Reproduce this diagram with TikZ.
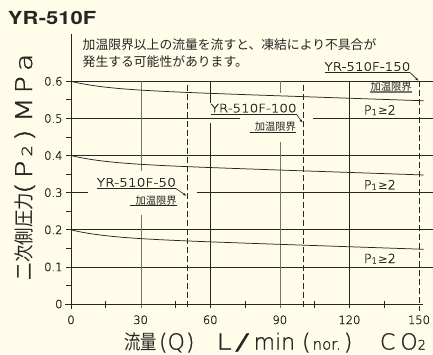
\documentclass[tikz,border=0pt]{standalone}
\usepackage{graphicx}
\usepackage{fontspec}
\usetikzlibrary{arrows.meta}
\newfontfamily\jpfont{Noto Sans CJK JP}
\newfontfamily\cadfont{DejaVu Sans}
\newfontfamily\cadthin{DejaVuSans-ExtraLight}[Extension=.ttf,FakeBold=1.3]
\newfontfamily\herosfont{TeX Gyre Heros}
\definecolor{bgcream}{RGB}{255,252,234}
\definecolor{ink}{RGB}{38,38,34}
\definecolor{lightink}{RGB}{118,116,106}
\newcommand{\fsz}[1]{\fontsize{#1}{#1}\selectfont}
\newcommand{\pone}{P\raisebox{-0.6pt}{\fsz{8.5}1}\hspace{1.2pt}{\cadfont\fsz{11.5}≥}2}
\begin{document}
\begin{tikzpicture}[x=1pt,y=-1pt,
  grid/.style={ink,line width=0.75pt},
  gridlight/.style={lightink,line width=0.9pt},
  limitline/.style={ink,line width=0.75pt,dash pattern=on 6pt off 3pt},
  curve/.style={ink,line width=0.75pt},
  leader/.style={ink,line width=0.6pt,-{Latex[length=3.5pt,width=2.4pt]}},
  uline/.style={ink,line width=0.75pt},
  every node/.style={inner sep=0pt,outer sep=0pt,text=ink},
  ticklbl/.style={font=\cadthin\fsz{11.5}},
  modellbl/.style={font=\cadthin\fsz{11.5}},
  limitlbl/.style={font=\jpfont\fsz{10.3}},
  plbl/.style={font=\cadthin\fsz{12.5}},
  notelbl/.style={font=\jpfont\fsz{12.8}},
  xtitle/.style={font=\cadthin\fsz{22}},
  ytitle/.style={font=\cadthin\fsz{23},rotate=90},
]
\fill[bgcream] (0,0) rectangle (433,354);
\useasboundingbox (0,0) rectangle (433,354);

% title and note
\node[anchor=base west,font=\herosfont\bfseries\fsz{18}] (title) at (8,24) {\scalebox{1.22}[1]{YR-510F}};
\node[notelbl,anchor=base west] (note1) at (82.7,49.9) {加温限界以上の流量を流すと、凍結により不具合が};
\node[notelbl,anchor=base west] (note2) at (82.7,66.6) {発生する可能性があります。};

% horizontal grid lines
\foreach \yy in {266.9,229.8,155.5,81.3} \draw[grid] (66,\yy) -- (433,\yy);
\draw[grid] (66,192.6) -- (88,192.6) (196.7,192.6) -- (433,192.6);
\draw[grid] (66,118.4) -- (240,118.4) (313,118.4) -- (433,118.4);
% vertical grid lines
\draw[gridlight] (141,81.3) -- (141,171) (141,215) -- (141,308);
\draw[grid] (210.2,81.3) -- (210.2,103) (210.2,123) -- (210.2,308);
\draw[gridlight] (280.2,81.3) -- (280.2,93) (280.2,142) -- (280.2,308);
\draw[grid] (349.4,81.3) -- (349.4,308);
% axes
\draw[grid] (71,34) -- (71,309);
\draw[grid] (65,304) -- (423,304);
\foreach \yy in {285.4,248.3,211.2,174.1,137.0,99.8} \draw[grid] (66,\yy) -- (71,\yy);
\foreach \xx in {105.8,175.4,245,314.6,384.2} \draw[grid] (\xx,300.5) -- (\xx,308);
% heating limits
\draw[limitline] (187,85) -- (187,309);
\draw[limitline] (303,85) -- (303,309);
\draw[limitline] (419,81) -- (419,311);
% curves
\foreach \yz in {81.3,155.5,229.8}
  \draw[curve] plot[domain=0:152,samples=80,smooth] ({71+2.32*\x},{\yz+371.2*(0.02*(1-exp(-\x/15))+0.00022*\x)});

% tick labels
\foreach \v/\yy [count=\i] in {0/304,0.1/266.9,0.2/229.8,0.3/192.6,0.4/155.5,0.5/118.4,0.6/81.3}
  \node[ticklbl,anchor=base east] (ylab\i) at (62.5,\yy+4.2) {\v};
\foreach \v/\xx [count=\i] in {0/71,30/140.6,60/210.2,90/279.8,120/349.4,150/419}
  \node[ticklbl,anchor=base] (xlab\i) at (\xx,324) {\v};

% P1>=2 labels
\node[plbl,anchor=base west] (p1) at (364,114.5) {\pone};
\node[plbl,anchor=base west] (p2) at (364,189.3) {\pone};
\node[plbl,anchor=base west] (p3) at (364,263) {\pone};

% model labels with leaders
\node[modellbl,anchor=base west] (m50) at (96.7,186.5) {\scalebox{1.2}[1]{YR-510F-50}};
\node[limitlbl,anchor=base east] (k50) at (176.7,204.4) {加温限界};
\coordinate (t50) at (186.6,196);
\draw[uline] ([yshift=-2pt]m50.base west) -- ([yshift=-2pt]m50.base east);
\draw[leader] ([yshift=-2pt]m50.base east) -- (t50);
\draw[uline] ([xshift=-5.5pt,yshift=-1.3pt]k50.base west) -- ([yshift=-1.3pt]k50.base east);

\node[modellbl,anchor=base west] (m100) at (210.7,112.3) {\scalebox{1.17}[1]{YR-510F-100}};
\node[limitlbl,anchor=base east] (k100) at (296,130.5) {加温限界};
\coordinate (t100) at (302.6,123);
\draw[uline] ([yshift=-2pt]m100.base west) -- ([yshift=-2pt]m100.base east);
\draw[leader] ([yshift=-2pt]m100.base east) -- (t100);
\draw[uline] ([xshift=-5pt,yshift=-1.5pt]k100.base west) -- ([yshift=-1.5pt]k100.base east);

\node[modellbl,anchor=base west] (m150) at (324.5,70.7) {\scalebox{1.17}[1]{YR-510F-150}};
\node[limitlbl,anchor=base east] (k150) at (411.7,90.3) {加温限界};
\coordinate (t150) at (418.6,81);
\draw[uline] ([yshift=-2pt]m150.base west) -- ([yshift=-2pt]m150.base east);
\draw[leader] ([yshift=-2pt]m150.base east) -- (t150);
\draw[uline,lightink,line width=1.2pt] ([xshift=-1pt,yshift=-1.6pt]k150.base west) -- ([yshift=-1.6pt]k150.base east);

% axis titles
\node[ytitle,font=\jpfont\fsz{20},anchor=base west] (yt1) at (31.5,280) {\scalebox{0.87}[1]{二次側圧力}};
\node[ytitle,anchor=base west] (yt2) at (32,194) {\scalebox{1.3}[1]{(\hspace{3pt}P\hspace{3pt}{\fsz{14}2}\hspace{3pt})}};
\node[ytitle,anchor=base west] (yt3) at (32,122) {\scalebox{1.25}[1]{M\hspace{3pt}P\hspace{4pt}a}};

\node[xtitle,font=\jpfont\fsz{20},anchor=base west] (xt1) at (124,349.3) {\scalebox{0.82}[1]{流量}};
\node[xtitle,anchor=base west] (xt2) at (159,349.5) {(Q\hspace{1pt})};
\node[xtitle,anchor=base west] (xt3) at (216.5,349.5) {\scalebox{1.25}[1]{L}\hspace{3pt}\scalebox{2}[1]{/}\hspace{4pt}min};
\node[xtitle,anchor=base west] (xt4) at (302,349.5) {(\hspace{2pt}{\fsz{15}nor.}\hspace{3pt})};
\node[xtitle,anchor=base west] (xt5) at (380,349.5) {C\hspace{5pt}O{\fsz{13}2}};
\end{tikzpicture}
\end{document}
